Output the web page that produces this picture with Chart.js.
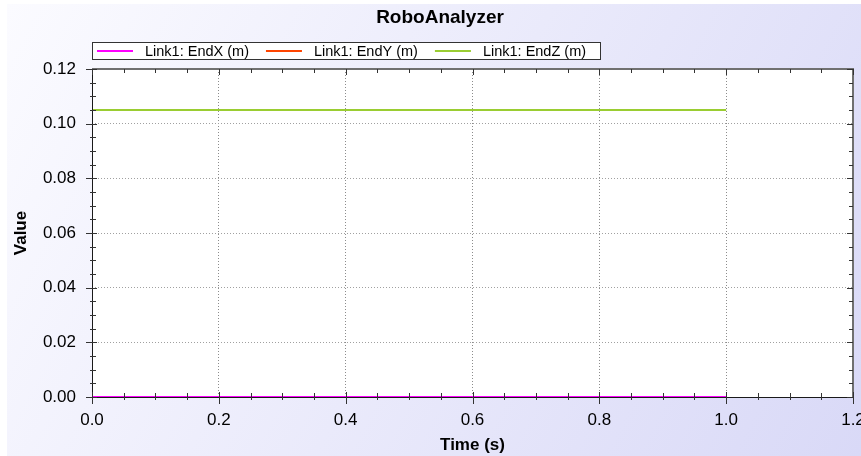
<!DOCTYPE html>
<html>
<head>
<meta charset="utf-8">
<title>RoboAnalyzer</title>
<script src="https://cdn.jsdelivr.net/npm/chart.js@4.4.1/dist/chart.umd.min.js"></script>
<style>
    html, body { margin: 0; padding: 0; background: #fff; }
</style>
</head>
<body>
<canvas id="chart" width="861" height="456"></canvas>
<script>
// Data
const timeValues = [0.0, 0.1, 0.2, 0.3, 0.4, 0.5, 0.6, 0.7, 0.8, 0.9, 1.0];
const endX = [0, 0, 0, 0, 0, 0, 0, 0, 0, 0, 0];
const endY = [0, 0, 0, 0, 0, 0, 0, 0, 0, 0, 0];
const endZ = [0.105, 0.105, 0.105, 0.105, 0.105, 0.105, 0.105, 0.105, 0.105, 0.105, 0.105];

const seriesLabels = ['Link1: EndX (m)', 'Link1: EndY (m)', 'Link1: EndZ (m)'];
const seriesColors = ['#ff00ff', '#ff4500', '#9acd32'];

const xTickLabels = ['0.0', '0.2', '0.4', '0.6', '0.8', '1.0', '1.2'];
const yTickLabels = ['0.00', '0.02', '0.04', '0.06', '0.08', '0.10', '0.12'];

const FONT = '"Liberation Sans", Arial, sans-serif';

function toPoints(values) {
    return values.map((v, i) => ({ x: timeValues[i], y: v }));
}

// Background, plot frame, minor/major tick marks, title and legend box
const chartDecor = {
    id: 'chartDecor',
    beforeDraw(chart) {
        const { ctx, chartArea: a, width, height } = chart;
        ctx.save();
        ctx.fillStyle = '#fff';
        ctx.fillRect(0, 0, width, height);
        const g = ctx.createLinearGradient(7, 4, width, height);
        g.addColorStop(0, '#fbfbff');
        g.addColorStop(1, '#d9d9f7');
        ctx.fillStyle = g;
        ctx.fillRect(7, 4, width - 7, height - 4);
        ctx.fillStyle = '#fff';
        ctx.fillRect(a.left, a.top, a.right - a.left, a.bottom - a.top);
        ctx.restore();
    },
    afterDatasetsDraw(chart) {
        const { ctx, chartArea: a } = chart;
        const xs = chart.scales.x;
        const ys = chart.scales.y;
        ctx.save();

        // top / right border
        ctx.strokeStyle = '#707070';
        ctx.lineWidth = 2;
        ctx.beginPath();
        ctx.moveTo(a.left, a.top);
        ctx.lineTo(a.right, a.top);
        ctx.lineTo(a.right, a.bottom);
        ctx.stroke();

        // left / bottom axis
        ctx.strokeStyle = '#1a1a1a';
        ctx.lineWidth = 1;
        ctx.beginPath();
        ctx.moveTo(a.left + 0.5, a.top);
        ctx.lineTo(a.left + 0.5, a.bottom + 0.5);
        ctx.lineTo(a.right, a.bottom + 0.5);
        ctx.stroke();

        // tick marks, 4 minor steps per major step
        ctx.strokeStyle = '#333';
        ctx.beginPath();
        for (let i = 0; i <= 24; i++) {
            const major = i % 4 === 0;
            const px = Math.round(xs.getPixelForValue(i * 0.05)) + 0.5;
            ctx.moveTo(px, a.bottom - (major ? 5 : 4));
            ctx.lineTo(px, a.bottom + (major ? 7 : 3));
            ctx.moveTo(px, a.top);
            ctx.lineTo(px, a.top + (major ? 6 : 4));

            const py = Math.round(ys.getPixelForValue(i * 0.005)) + 0.5;
            ctx.moveTo(a.left - (major ? 6 : 2), py);
            ctx.lineTo(a.left + (major ? 5 : 4), py);
            ctx.moveTo(a.right, py);
            ctx.lineTo(a.right - (major ? 6 : 4), py);
        }
        ctx.stroke();
        ctx.restore();
    },
    afterDraw(chart) {
        const { ctx } = chart;
        ctx.save();

        // title
        ctx.fillStyle = '#000';
        ctx.font = 'bold 19px ' + FONT;
        ctx.textAlign = 'center';
        ctx.textBaseline = 'middle';
        ctx.fillText('RoboAnalyzer', 440, 18);

        // legend box
        ctx.fillStyle = '#fff';
        ctx.fillRect(92.5, 42.5, 508, 17);
        ctx.strokeStyle = '#333';
        ctx.lineWidth = 1;
        ctx.strokeRect(92.5, 42.5, 508, 17);

        ctx.font = '14.5px ' + FONT;
        ctx.textAlign = 'left';
        let x = 97;
        chart.data.datasets.forEach(ds => {
            ctx.strokeStyle = ds.borderColor;
            ctx.lineWidth = 2;
            ctx.beginPath();
            ctx.moveTo(x, 51);
            ctx.lineTo(x + 36, 51);
            ctx.stroke();
            ctx.fillStyle = '#000';
            ctx.fillText(ds.label, x + 48, 51.5);
            x += 48 + ctx.measureText(ds.label).width + 17;
        });
        ctx.restore();
    }
};

const ctx = document.getElementById('chart').getContext('2d');

new Chart(ctx, {
    type: 'line',
    data: {
        datasets: [endX, endY, endZ].map((vals, i) => ({
            label: seriesLabels[i],
            data: toPoints(vals),
            borderColor: seriesColors[i],
            backgroundColor: seriesColors[i],
            borderWidth: 2,
            pointRadius: 0,
            fill: false,
            tension: 0,
            clip: false
        }))
    },
    options: {
        responsive: false,
        animation: false,
        events: [],
        layout: {
            autoPadding: false,
            padding: { top: 69, right: 8, bottom: 0, left: 0 }
        },
        scales: {
            x: {
                type: 'linear',
                min: 0,
                max: 1.2,
                afterBuildTicks: scale => {
                    scale.ticks = xTickLabels.map(t => ({ value: parseFloat(t) }));
                },
                afterFit: scale => {
                    scale.height = 59;
                    scale.paddingLeft = 0;
                    scale.paddingRight = 0;
                },
                grid: { color: '#8c8c8c', drawTicks: false, lineWidth: 1 },
                border: { display: false, dash: [1, 2] },
                ticks: {
                    padding: 13,
                    color: '#000',
                    maxRotation: 0,
                    autoSkip: false,
                    font: { family: FONT, size: 17 },
                    callback: (value, index) => xTickLabels[index]
                },
                title: {
                    display: true,
                    text: 'Time (s)',
                    color: '#000',
                    font: { family: FONT, size: 17, weight: 'bold' },
                    padding: { top: 0, bottom: 0 }
                }
            },
            y: {
                type: 'linear',
                min: 0,
                max: 0.12,
                afterBuildTicks: scale => {
                    scale.ticks = yTickLabels.map(t => ({ value: parseFloat(t) }));
                },
                afterFit: scale => {
                    scale.width = 92;
                    scale.paddingTop = 0;
                    scale.paddingBottom = 0;
                },
                grid: { color: '#a0a0a0', drawTicks: false, lineWidth: 1 },
                border: { display: false, dash: [1, 2] },
                ticks: {
                    padding: 16,
                    color: '#000',
                    autoSkip: false,
                    font: { family: FONT, size: 17 },
                    callback: (value, index) => yTickLabels[index]
                },
                title: {
                    display: true,
                    text: 'Value',
                    color: '#000',
                    font: { family: FONT, size: 17, weight: 'bold' },
                    padding: { top: 11, bottom: 0 }
                }
            }
        },
        plugins: {
            legend: { display: false },
            title: { display: false },
            tooltip: { enabled: false }
        }
    },
    plugins: [chartDecor]
});
</script>
</body>
</html>
